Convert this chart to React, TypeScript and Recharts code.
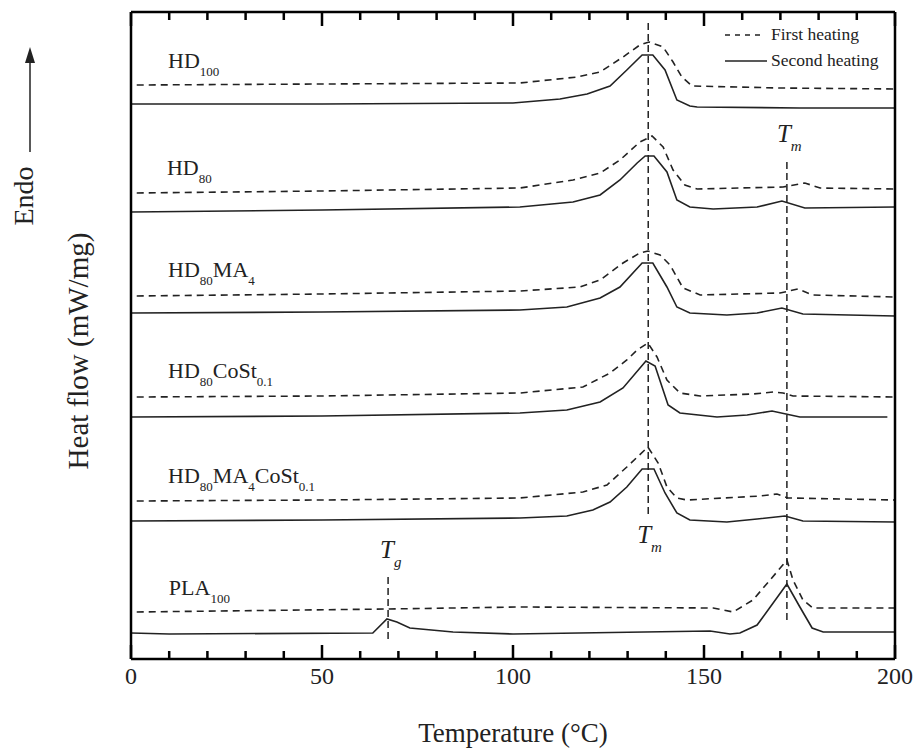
import React from "react";
import { LineChart, Line, XAxis, YAxis, ReferenceLine, ReferenceDot, Legend } from "recharts";

const FONT = '"Liberation Serif", "Times New Roman", serif';
const INK = "#222";

// temperature (°C), heat flow (a.u., curves stacked with offsets)
const hd100First: [number, number][] = [[1.5, 57.4], [50, 57.5], [101.8, 57.6], [116.8, 58.2], [122.8, 58.7], [128.8, 60.2], [133.2, 61.4], [135.6, 61.7], [139.3, 61.2], [141.9, 59.7], [144.2, 58.2], [146.9, 57.3], [170, 57.1], [200, 57.0]];
const hd100Second: [number, number][] = [[0, 55.5], [50, 55.5], [100, 55.6], [112.3, 56.0], [119.4, 56.5], [125.4, 57.3], [129.8, 58.9], [133.8, 60.4], [136.6, 60.4], [139.8, 58.9], [142.9, 55.9], [146.3, 55.3], [148.2, 55.2], [175, 55.1], [200, 55.1]];
const hd80First: [number, number][] = [[1.5, 46.6], [50, 46.8], [101.8, 47.1], [115.7, 47.9], [122.8, 48.6], [128, 49.9], [133.2, 51.7], [136.4, 52.3], [139.3, 51.2], [141.9, 48.9], [145, 47.4], [148.2, 47.0], [170.7, 47.2], [176.4, 47.6], [180.4, 47.1], [200, 47.0]];
const hd80Second: [number, number][] = [[0, 44.7], [50, 44.9], [101.8, 45.2], [115.7, 45.7], [122.8, 46.4], [128, 47.9], [132.5, 49.6], [134.6, 50.3], [136.9, 50.3], [140.3, 48.7], [142.9, 45.9], [146.3, 45.2], [152.4, 45.0], [163.9, 45.2], [170.4, 45.8], [176.4, 45.1], [200, 45.2]];
const hd80ma4First: [number, number][] = [[1.5, 36.3], [50, 36.5], [101.8, 36.8], [117.5, 37.2], [122.8, 37.9], [128.8, 39.6], [133.2, 40.6], [135.3, 40.8], [138.5, 40.4], [141.1, 39.4], [144.5, 37.1], [149, 36.4], [169.9, 36.6], [174.6, 37.0], [178.5, 36.4], [200, 36.2]];
const hd80ma4Second: [number, number][] = [[0, 34.6], [50, 34.7], [101.8, 34.9], [114.1, 35.2], [122.8, 36.1], [128, 37.2], [133.8, 39.6], [136.6, 39.6], [140.3, 37.2], [142.9, 35.2], [146.3, 34.6], [156, 34.4], [163.9, 34.6], [170.4, 35.1], [175.9, 34.5], [200, 34.3]];
const hd80costFirst: [number, number][] = [[1.5, 26.2], [50, 26.3], [101.8, 26.6], [118.3, 27.2], [125.4, 28.6], [129.8, 29.9], [132.5, 30.9], [135.3, 31.6], [137.7, 30.2], [140.3, 27.9], [143.7, 26.6], [149, 26.3], [162.8, 26.5], [168.1, 26.7], [170.7, 26.6], [173.3, 26.3], [200, 26.2]];
const hd80costSecond: [number, number][] = [[0, 24.2], [50, 24.3], [101.8, 24.6], [114.1, 24.9], [122.8, 25.7], [128.8, 27.1], [134.8, 29.8], [137.2, 29.3], [140.6, 25.4], [143.7, 24.6], [153.4, 24.2], [161.3, 24.4], [167.8, 24.8], [175.1, 24.2], [198, 24.2]];
const hd80ma4costFirst: [number, number][] = [[1.5, 15.8], [50, 15.9], [101.8, 16.1], [118.3, 16.7], [124.6, 17.4], [129.8, 19.2], [135.3, 21.2], [138, 19.6], [140.3, 17.2], [142.9, 16.1], [145.5, 15.9], [164.7, 16.3], [169.1, 16.5], [172, 16.1], [200, 15.9]];
const hd80ma4costSecond: [number, number][] = [[0, 13.8], [50, 13.9], [101.8, 14.1], [114.1, 14.3], [120.9, 14.9], [125.4, 15.7], [129.8, 17.2], [133.8, 19.0], [136.9, 19.0], [139.8, 16.6], [142.9, 14.6], [146.3, 13.9], [156, 13.7], [163.9, 14.0], [171.2, 14.3], [175.9, 13.8], [200, 13.7]];
const pla100First: [number, number][] = [[1.5, 4.7], [67, 5.0], [101.8, 5.2], [152.4, 5.1], [157.6, 4.7], [162.8, 5.9], [167.3, 7.9], [170.4, 9.3], [171.7, 9.9], [173.3, 7.9], [175.9, 5.9], [178.5, 5.1], [200, 5.1]];
const pla100Second: [number, number][] = [[0, 2.6], [10, 2.5], [63.3, 2.6], [67, 4.0], [69.6, 3.7], [73, 3.1], [84.3, 2.7], [100, 2.5], [151.6, 2.8], [156.8, 2.5], [159.4, 2.6], [163.9, 3.4], [168.1, 5.6], [171.7, 7.5], [175.1, 5.2], [178.3, 3.1], [181.2, 2.7], [200, 2.7]];

const firstHeating = [hd100First, hd80First, hd80ma4First, hd80costFirst, hd80ma4costFirst, pla100First];
const secondHeating = [hd100Second, hd80Second, hd80ma4Second, hd80costSecond, hd80ma4costSecond, pla100Second];

// sample names: [text, isSubscript] parts, anchored at [T, heat flow]
const sampleNames: [string, number][][] = [
  [["HD", 0], ["100", 1]],
  [["HD", 0], ["80", 1]],
  [["HD", 0], ["80", 1], ["MA", 0], ["4", 1]],
  [["HD", 0], ["80", 1], ["CoSt", 0], ["0.1", 1]],
  [["HD", 0], ["80", 1], ["MA", 0], ["4", 1], ["CoSt", 0], ["0.1", 1]],
  [["PLA", 0], ["100", 1]],
];
const sampleNameAt: [number, number][] = [[9.7, 59.1], [9.4, 48.4], [9.7, 38.2], [9.7, 28.1], [9.7, 17.6], [9.9, 6.4]];

// transition markers: x, y from, y to
const transitionLines: [number, number, number][] = [[135.4, 63.6, 14.4], [171.7, 49.7, 3.9], [67.3, 8.2, 1.6]];
const transitionNames: [string, string][] = [["T", "m"], ["T", "m"], ["T", "g"]];
const transitionNameAt: [number, number][] = [[132.5, 11.6], [169.1, 51.7], [65.2, 10.1]];

const xTicks = [0, 10, 20, 30, 40, 50, 60, 70, 80, 90, 100, 110, 120, 130, 140, 150, 160, 170, 180, 190, 200];
const legendItems = ["First heating", "Second heating"];

const W = 918;
const H = 749;
const M_TOP = 12;
const X_AXIS_H = 90;
const Y_MAX = 64.7;
const toPts = (arr: [number, number][]) => arr.map(([t, v]) => ({ t, v }));

function RichText({ x, y, parts, size, subSize, shift, italic }: any) {
  let prev = 0;
  return (
    <text x={x} y={y} fontFamily={FONT} fontSize={size} fill={INK} fontStyle={italic ? "italic" : "normal"}>
      {parts.map(([s, sub]: [string, number], i: number) => {
        const off = sub ? shift : 0;
        const dy = off - prev;
        prev = off;
        return (
          <tspan key={i} dy={dy} fontSize={sub ? subSize : size}>
            {s}
          </tspan>
        );
      })}
    </text>
  );
}

const tickLen = (t: number) => (t % 50 === 0 ? 14 : 8);

const TickLabel = (props: any) => {
  const { x, y, payload } = props;
  if (payload.value % 50 !== 0) return <g />;
  return (
    <text x={x} y={y + 25} textAnchor="middle" fontFamily={FONT} fontSize={24} fill={INK} stroke="none">
      {payload.value}
    </text>
  );
};

const XTitle = (props: any) => {
  const vb = props.viewBox;
  return (
    <text x={vb.x + vb.width / 2} y={vb.y + 83} textAnchor="middle" fontFamily={FONT} fontSize={27} fill={INK}>
      Temperature (°C)
    </text>
  );
};

const YTitle = (props: any) => {
  const vb = props.viewBox;
  const cy = vb.y + 339;
  return (
    <g>
      <text transform={`translate(88, ${cy}) rotate(-90)`} textAnchor="middle" fontFamily={FONT} fontSize={29} fill={INK}>
        Heat flow (mW/mg)
      </text>
      <text transform="translate(33, 196) rotate(-90)" textAnchor="middle" fontFamily={FONT} fontSize={28} fill={INK}>
        Endo
      </text>
      <line x1={30} x2={30} y1={152} y2={60} stroke={INK} strokeWidth={1.5} />
      <polygon points="30,47 25,63 35,63" fill={INK} />
    </g>
  );
};

const LegendBox = () => (
  <svg width={185} height={62} style={{ display: "block" }}>
    <line x1={5} x2={42} y1={25} y2={25} stroke={INK} strokeWidth={1.5} strokeDasharray="5 5" />
    <text x={51} y={30} fontFamily={FONT} fontSize={17.5} fill={INK}>{legendItems[0]}</text>
    <line x1={5} x2={47} y1={51} y2={51} stroke={INK} strokeWidth={1.5} />
    <text x={51} y={56} fontFamily={FONT} fontSize={17.5} fill={INK}>{legendItems[1]}</text>
  </svg>
);

export default function App() {
  return (
    <div style={{ position: "absolute", left: 0, top: 0, background: "#fff" }}>
      <LineChart width={W} height={H} margin={{ top: M_TOP, right: 3, bottom: 0, left: 0 }}>
        <XAxis
          xAxisId="b"
          dataKey="t"
          type="number"
          domain={[0, 200]}
          ticks={xTicks}
          interval={0}
          height={X_AXIS_H}
          tickSize={0}
          tickMargin={0}
          tickLine={false}
          tick={TickLabel}
          axisLine={{ stroke: "#000", strokeWidth: 2.5 }}
          label={{ content: XTitle }}
        />
        <YAxis
          yAxisId="l"
          type="number"
          domain={[0, Y_MAX]}
          width={131}
          tick={false}
          tickLine={false}
          axisLine={{ stroke: "#000", strokeWidth: 2.5 }}
          label={{ content: YTitle }}
        />
        <YAxis
          yAxisId="r"
          orientation="right"
          type="number"
          domain={[0, Y_MAX]}
          width={20}
          tick={false}
          tickLine={false}
          axisLine={{ stroke: "#000", strokeWidth: 2.5 }}
        />
        <ReferenceLine xAxisId="b" yAxisId="l" y={Y_MAX} ifOverflow="visible" stroke="#000" strokeWidth={2.5} />
        {/* inward ticks on bottom and top edges */}
        {xTicks.map((t) => (
          <ReferenceDot
            key={`bt${t}`}
            xAxisId="b"
            yAxisId="l"
            x={t}
            y={0}
            r={0}
            ifOverflow="visible"
            shape={(p: any) => <rect x={p.cx - 1.25} y={p.cy - tickLen(t)} width={2.5} height={tickLen(t)} fill="#000" />}
          />
        ))}
        {xTicks.map((t) => (
          <ReferenceDot
            key={`tt${t}`}
            xAxisId="b"
            yAxisId="l"
            x={t}
            y={Y_MAX}
            r={0}
            ifOverflow="visible"
            shape={(p: any) => <rect x={p.cx - 1.25} y={p.cy} width={2.5} height={tickLen(t)} fill="#000" />}
          />
        ))}
        {transitionLines.map(([x, y1, y2], i) => (
          <ReferenceLine
            key={`tl${i}`}
            xAxisId="b"
            yAxisId="l"
            segment={[{ x, y: y1 }, { x, y: y2 }]}
            stroke={INK}
            strokeWidth={1.5}
            strokeDasharray="7 4"
          />
        ))}
        {firstHeating.map((s, i) => (
          <Line
            key={`f${i}`}
            xAxisId="b"
            yAxisId="l"
            data={toPts(s)}
            dataKey="v"
            type="linear"
            stroke={INK}
            strokeWidth={1.6}
            strokeDasharray="7 5"
            dot={false}
            activeDot={false}
            isAnimationActive={false}
          />
        ))}
        {secondHeating.map((s, i) => (
          <Line
            key={`s${i}`}
            xAxisId="b"
            yAxisId="l"
            data={toPts(s)}
            dataKey="v"
            type="linear"
            stroke={INK}
            strokeWidth={1.6}
            dot={false}
            activeDot={false}
            isAnimationActive={false}
          />
        ))}
        {sampleNames.map((parts, i) => (
          <ReferenceDot
            key={`n${i}`}
            xAxisId="b"
            yAxisId="l"
            x={sampleNameAt[i][0]}
            y={sampleNameAt[i][1]}
            r={0}
            shape={(p: any) => <RichText x={p.cx} y={p.cy} parts={parts} size={22} subSize={13} shift={8} />}
          />
        ))}
        {transitionNames.map(([a, b], i) => (
          <ReferenceDot
            key={`m${i}`}
            xAxisId="b"
            yAxisId="l"
            x={transitionNameAt[i][0]}
            y={transitionNameAt[i][1]}
            r={0}
            shape={(p: any) => (
              <RichText x={p.cx} y={p.cy} parts={[[a, 0], [b, 1]]} size={25} subSize={15} shift={9} italic />
            )}
          />
        ))}
        <Legend
          layout="horizontal"
          verticalAlign="middle"
          align="center"
          content={LegendBox}
          wrapperStyle={{ left: 720, top: 10, width: 185, height: 62 }}
        />
      </LineChart>
    </div>
  );
}
